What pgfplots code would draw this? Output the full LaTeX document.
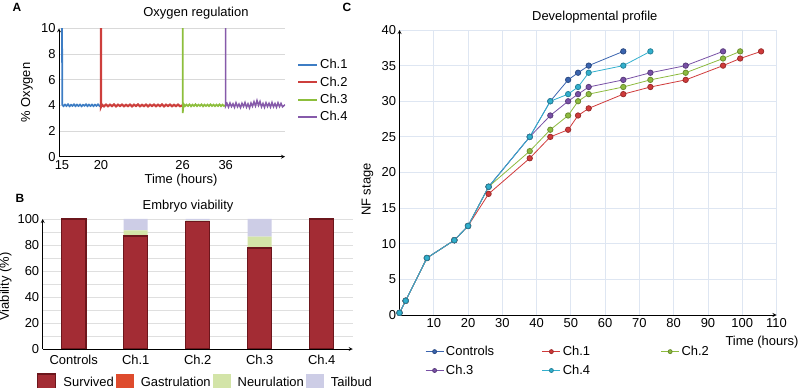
\documentclass[border=0pt]{standalone}
\usepackage{pgfplots}
\pgfplotsset{compat=1.18}
\usepackage{fontspec}
\setmainfont{Liberation Sans}
\definecolor{aone}{RGB}{61,125,196}
\definecolor{atwo}{RGB}{205,63,60}
\definecolor{athree}{RGB}{141,190,60}
\definecolor{afour}{RGB}{134,90,170}
\definecolor{cctrl}{RGB}{58,100,175}
\definecolor{cone}{RGB}{208,58,58}
\definecolor{ctwo}{RGB}{141,187,63}
\definecolor{cthree}{RGB}{120,80,165}
\definecolor{cfour}{RGB}{50,175,205}
\definecolor{survmid}{RGB}{163,44,52}
\definecolor{survdark}{RGB}{108,22,28}
\definecolor{gastr}{RGB}{222,75,45}
\definecolor{neur}{RGB}{211,228,168}
\definecolor{tail}{RGB}{205,205,230}
\definecolor{cgrid}{RGB}{222,230,242}
\newcommand{\fs}{\fontsize{13}{15}\selectfont}
\pgfplotsset{every axis/.append style={
  /pgf/number format/assume math mode=true,
  tick label style={font=\fs}, label style={font=\fs}, title style={font=\fs},
  legend style={font=\fs}, major tick length=0pt, minor tick length=0pt,
  axis line style={line width=0.8bp}}}
\begin{document}
\begin{tikzpicture}
\path[use as bounding box] (0bp,0bp) rectangle (799bp,388bp);
\node[font=\bfseries\fontsize{12}{14}\selectfont] at (17bp,381bp) {A};
\node[font=\bfseries\fontsize{12}{14}\selectfont] at (20bp,190bp) {B};
\node[font=\bfseries\fontsize{12}{14}\selectfont] at (347bp,381bp) {C};
% Panel A
\begin{axis}[at={(59bp,231.3bp)}, anchor=south west, scale only axis,
  width=226bp, height=128.4bp, xmin=0, xmax=226, ymin=0, ymax=10,
  axis lines=left, xtick={3,42,123.7,166.7}, xticklabels={15,20,26,36},
  ytick={0,2,...,10}, ymajorgrids, grid style={gray!30, line width=0.8bp},
  title={Oxygen regulation}, title style={at={(axis description cs:0.606,1)}, anchor=center, yshift=9bp},
  xlabel={Time (hours)}, xlabel style={at={(axis description cs:0.54,0)}, anchor=center, yshift=-23bp},
  ylabel={\% Oxygen}, ylabel style={at={(axis description cs:-0.1416,0.5)}, anchor=center},
  legend style={draw=none, fill=none, at={(axis description cs:1,0.79)}, anchor=north west, xshift=9bp, row sep=2.5bp},
  legend cell align=left,
  legend image code/.code={\draw[#1, line width=2bp] (0bp,0bp) -- (19bp,0bp);},
  clip=true]
\addplot[aone, line width=1.8bp] coordinates {(3,10.6) (3.3,4.05) (4.5,3.94) (6,4.06) (7.5,3.95) (9,4.08) (10.5,3.93) (12,4.04) (13.5,3.96) (15,4.07) (16.5,3.94) (18,4.05) (19.5,3.95) (21,4.06) (22.5,3.93) (24,4.04) (25.5,3.97) (27,4.08) (28.5,3.94) (30,4.05) (31.5,3.95) (33,4.06) (34.5,3.94) (36,4.05) (37.5,3.96) (39,4.07) (40.5,3.95) (42,4.02)};
\addlegendentry{Ch.1}
\addplot[atwo, line width=2.2bp] coordinates {(42,10.6) (42,3.88) (43,4.05) (45,3.92) (47,4.06) (49,3.93) (51,4.05) (53,3.94) (55,4.07) (57,3.92) (59,4.05) (61,3.95) (63,4.06) (65,3.93) (67,4.04) (69,3.94) (71,4.06) (73,3.92) (75,4.05) (77,3.95) (79,4.07) (81,3.93) (83,4.04) (85,3.94) (87,4.06) (89,3.92) (91,4.05) (93,3.95) (95,4.06) (97,3.93) (99,4.05) (101,3.94) (103,4.07) (105,3.92) (107,4.05) (109,3.95) (111,4.06) (113,3.93) (115,4.04) (117,3.94) (119,4.06) (121,3.93) (123.7,4.0)};
\addlegendentry{Ch.2}
\addplot[athree, line width=1.8bp] coordinates {(123.7,10.6) (123.7,3.4) (124.5,4.12) (126,3.94) (127.5,4.06) (129,3.95) (130.5,4.07) (132,3.93) (133.5,4.05) (135,3.95) (136.5,4.08) (138,3.94) (139.5,4.05) (141,3.96) (142.5,4.07) (144,3.93) (145.5,4.05) (147,3.95) (148.5,4.06) (150,3.94) (151.5,4.07) (153,3.95) (154.5,4.05) (156,3.94) (157.5,4.06) (159,3.95) (160.5,4.07) (162,3.94) (163.5,4.05) (165,3.95) (166.7,4.02)};
\addlegendentry{Ch.3}
\addplot[afour, line width=1.5bp] coordinates {(166.7,10.6) (166.7,3.95) (168,4.15) (169.5,3.86) (171,4.18) (172.5,3.9) (174,4.12) (175.5,3.84) (177,4.2) (178.5,3.88) (180,4.1) (181.5,3.82) (183,4.16) (184.5,3.9) (186,4.22) (187.5,3.85) (189,4.12) (190.5,3.8) (192,4.18) (193.5,3.92) (195,4.28) (196.5,3.95) (198,4.38) (199.5,4.0) (201,4.3) (202.5,3.88) (204,4.15) (205.5,3.84) (207,4.2) (208.5,3.9) (210,4.16) (211.5,3.86) (213,4.22) (214.5,3.88) (216,4.14) (217.5,3.85) (219,4.2) (220.5,3.9) (222,4.15) (223.5,3.88) (226,4.05)};
\addlegendentry{Ch.4}
\end{axis}
% Panel B
\begin{axis}[at={(42.7bp,39bp)}, anchor=south west, scale only axis,
  width=310bp, height=130bp, xmin=-0.5, xmax=4.5, ymin=0, ymax=100,
  ybar stacked, bar width=24bp, axis lines=left,
  xtick={0,...,4}, xticklabels={Controls,Ch.1,Ch.2,Ch.3,Ch.4},
  xticklabel style={yshift=-3bp},
  ytick={0,20,...,100}, minor ytick={10,30,...,90},
  ymajorgrids, yminorgrids, grid style={gray!25, line width=0.7bp},
  minor grid style={gray!25, line width=0.7bp},
  title={Embryo viability}, title style={at={(axis description cs:0.469,1)}, anchor=center, yshift=7bp},
  ylabel={Viability (\%)}, ylabel style={at={(axis description cs:-0.12,0.48)}, anchor=center},
  legend columns=4,
  legend style={draw=none, fill=none, at={(axis description cs:0,0)}, anchor=north west, xshift=-9bp, yshift=-22bp,
    /tikz/every odd column/.append style={column sep=5bp}},
  legend image code/.code={\fill[#1] (0bp,-8.5bp) rectangle (18bp,8.5bp);},
  ]
\addplot[fill=survmid, draw=survdark, line width=1.6bp] coordinates {(0,100) (1,87) (2,98) (3,77.5) (4,100)};
\addlegendentry{Survived}
\addplot[fill=gastr, draw=none] coordinates {(0,0) (1,0) (2,0) (3,0) (4,0)};
\addlegendentry{Gastrulation}
\addplot[fill=neur, draw=none] coordinates {(0,0) (1,4.3) (2,0.7) (3,9) (4,0)};
\addlegendentry{Neurulation}
\addplot[fill=tail, draw=none] coordinates {(0,0) (1,8.7) (2,1.3) (3,13.5) (4,0)};
\addlegendentry{Tailbud}
\end{axis}
% Panel C
\begin{axis}[at={(399.5bp,73bp)}, anchor=south west, scale only axis,
  width=377bp, height=285bp, xmin=0, xmax=110, ymin=0, ymax=40,
  axis lines=left, xtick={10,20,...,110}, ytick={0,5,...,40},
  grid=major, grid style={cgrid, line width=0.8bp},
  title={Developmental profile}, title style={at={(axis description cs:0.518,1)}, anchor=center, yshift=7bp},
  xlabel={Time (hours)}, xlabel style={at={(axis description cs:0.9615,0)}, anchor=center, yshift=-27bp},
  ylabel={NF stage}, ylabel style={at={(axis description cs:-0.085,0.44)}, anchor=center},
  legend columns=3, legend cell align=left,
  legend style={draw=none, fill=none, at={(axis description cs:0.0756,0)}, anchor=north west, xshift=-6bp, yshift=-27bp, row sep=4bp,
    /tikz/every even column/.append style={column sep=3bp}},
  legend image code/.code={\draw[mark repeat=2,mark phase=2,#1, mark size=2bp] plot coordinates {(0bp,0bp) (9bp,0bp) (18bp,0bp)};},
  every axis plot/.append style={line width=0.8bp, mark=*, mark size=2.7bp}]
\addplot[cctrl, mark options={fill=cctrl, draw=cctrl!75!black}] coordinates {(0,0.3) (1.8,2) (8,8) (16,10.5) (20,12.5) (26,18) (38,25) (44,30) (49.2,33) (52.1,34) (55.2,35) (65.3,37)};
\addlegendentry{\makebox[91bp][l]{Controls}}
\addplot[cone, mark options={fill=cone, draw=cone!75!black}] coordinates {(0,0.3) (1.8,2) (8,8) (16,10.5) (20,12.5) (26,17) (38,22) (44,25) (49.2,26) (52.1,28) (55.2,29) (65.3,31) (73.2,32) (83.5,33) (94.4,35) (99.4,36) (105.5,37)};
\addlegendentry{\makebox[93bp][l]{Ch.1}}
\addplot[ctwo, mark options={fill=ctwo, draw=ctwo!75!black}] coordinates {(0,0.3) (1.8,2) (8,8) (16,10.5) (20,12.5) (26,18) (38,23) (44,26) (49.2,28) (52.1,30) (55.2,31) (65.3,32) (73.2,33) (83.5,34) (94.4,36) (99.4,37)};
\addlegendentry{Ch.2}
\addplot[cthree, mark options={fill=cthree, draw=cthree!75!black}] coordinates {(0,0.3) (1.8,2) (8,8) (16,10.5) (20,12.5) (26,18) (38,25) (44,28) (49.2,30) (52.1,31) (55.2,32) (65.3,33) (73.2,34) (83.5,35) (94.4,37)};
\addlegendentry{\makebox[91bp][l]{Ch.3}}
\addplot[cfour, mark options={fill=cfour, draw=cfour!75!black}] coordinates {(0,0.3) (1.8,2) (8,8) (16,10.5) (20,12.5) (26,18) (38,25) (44,30) (49.2,31) (52.1,32) (55.2,34) (65.3,35) (73.2,37)};
\addlegendentry{\makebox[93bp][l]{Ch.4}}
\end{axis}
\end{tikzpicture}
\end{document}
